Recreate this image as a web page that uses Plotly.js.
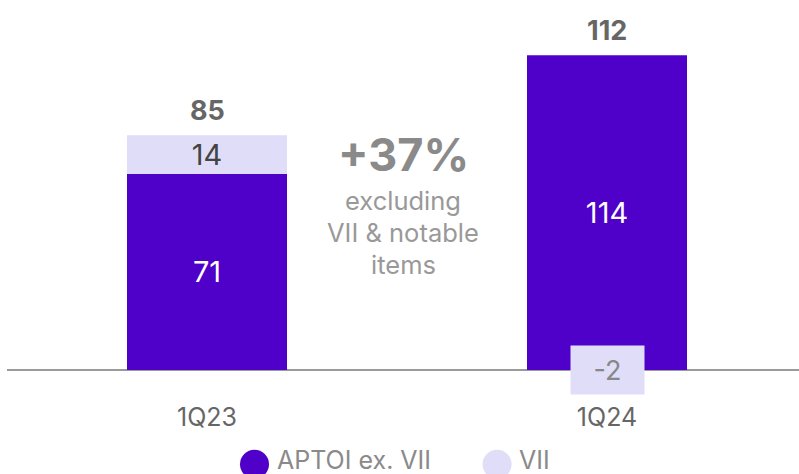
<!DOCTYPE html>
<html>
<head>
<meta charset="utf-8">
<script src="https://cdn.plot.ly/plotly-3.0.1.min.js"></script>
<style>html,body{margin:0;padding:0;background:#fff;}#chart{width:799px;height:474px;}</style>
</head>
<body>
<div id="chart"></div>
<script>
var categories = ['1Q23', '1Q24'];
var aptoiExVII = [71, 114];
var vii = [14, -2];
var totals = [85, 112];
var seriesNames = ['APTOI ex. VII', 'VII'];
var growthText = '+37%';
var growthNote = ['excluding', 'VII & notable', 'items'];

var dark = '#4f00c9';
var light = '#dfddf8';
var font = 'Inter, "Open Sans", sans-serif';

var traces = [
  {
    type: 'bar', name: seriesNames[0], x: categories, y: aptoiExVII,
    marker: {color: dark}, width: 0.4,
    text: aptoiExVII.map(String), textposition: 'inside', insidetextanchor: 'middle',
    textangle: 0,
    textfont: {color: '#ffffff', size: 29, family: font}, constraintext: 'none',
    showlegend: false, hoverinfo: 'x+y+name'
  },
  {
    type: 'bar', name: seriesNames[1], x: categories, y: vii,
    marker: {color: light}, width: [0.4, 0.178],
    text: vii.map(function (v) { return v > 0 ? String(v) : ''; }),
    textposition: 'inside', insidetextanchor: 'middle', textangle: 0,
    textfont: {color: '#444444', size: 29, family: font}, constraintext: 'none',
    showlegend: false, hoverinfo: 'x+y+name'
  }
];

var annotations = [];
categories.forEach(function (c, i) {
  var top = aptoiExVII[i] + Math.max(vii[i], 0);
  annotations.push({
    x: c, y: top, xref: 'x', yref: 'y', text: '<b>' + totals[i] + '</b>',
    showarrow: false, yanchor: 'bottom', yshift: 6,
    font: {size: 27, color: '#666666', family: font}
  });
  if (vii[i] < 0) {
    annotations.push({
      x: c, y: 0, xref: 'x', yref: 'y', text: String(vii[i]),
      showarrow: false, yanchor: 'middle', xanchor: 'center',
      bgcolor: light, width: 71, height: 46,
      font: {size: 27, color: '#888888', family: font}
    });
  }
});
annotations.push({
  x: 0.49, y: 0.63, xref: 'x', yref: 'paper', text: '<b>' + growthText + '</b>',
  showarrow: false, font: {size: 45, color: '#8a8a8a', family: font}
});
growthNote.forEach(function (t, k) {
  annotations.push({
    x: 0.49, y: 0.512 - k * 0.082, xref: 'x', yref: 'paper', text: t,
    showarrow: false, font: {size: 25.5, color: '#999999', family: font}
  });
});

// legend
var legX = [0.338, 0.6445];
var circX = [0.3125, 0.6188];
var legColors = [dark, light];
var shapes = [];
seriesNames.forEach(function (n, i) {
  shapes.push({
    type: 'circle', xref: 'paper', yref: 'paper',
    xsizemode: 'pixel', ysizemode: 'pixel',
    xanchor: circX[i], yanchor: -0.165,
    x0: -14.5, x1: 14.5, y0: -14.5, y1: 14.5,
    fillcolor: legColors[i], line: {width: 0}
  });
  annotations.push({
    x: legX[i], y: -0.154, xref: 'paper', yref: 'paper', text: n,
    showarrow: false, xanchor: 'left', yanchor: 'middle',
    font: {size: 25, color: '#8a8a8a', family: font}
  });
});

var layout = {
  width: 799, height: 474,
  margin: {l: 7, r: 0, t: 10, b: 74},
  paper_bgcolor: '#ffffff', plot_bgcolor: '#ffffff',
  barmode: 'relative', showlegend: false,
  font: {family: font},
  xaxis: {
    type: 'category', range: [-0.5, 1.48], showgrid: false, showline: false,
    ticks: '', tickfont: {size: 25, color: '#666666', family: font},
    fixedrange: true
  },
  yaxis: {
    range: [-10.87, 130.4], showgrid: false, showticklabels: false,
    zeroline: true, zerolinecolor: '#9a9a9a', zerolinewidth: 2, showline: false,
    fixedrange: true
  },
  annotations: annotations,
  shapes: shapes
};

Plotly.newPlot('chart', traces, layout, {displayModeBar: false, staticPlot: true});
</script>
</body>
</html>
